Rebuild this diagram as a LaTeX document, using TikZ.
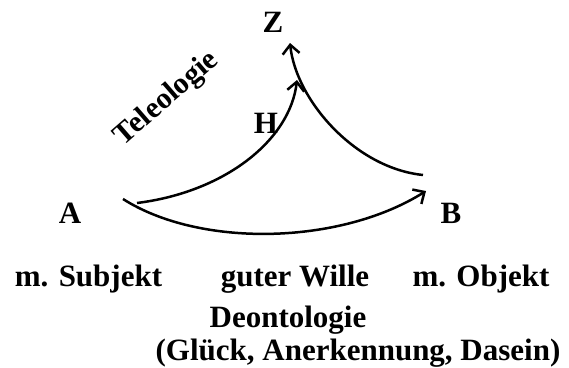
\documentclass[tikz,border=0pt]{standalone}
\usepackage{fontspec}
\setmainfont{Liberation Serif}
\usetikzlibrary{arrows.meta}

\begin{document}
\begin{tikzpicture}[
  x=1pt, y=-1pt,
  lbl/.style={font=\fontsize{31}{37}\selectfont\bfseries, anchor=base, inner sep=0pt},
  slanted/.style={font=\fontsize{30}{36}\selectfont\bfseries, rotate=41, inner sep=0pt},
  curve/.style={line width=2.5pt},
  arrow/.style={curve, -{Straight Barb[length=9pt, width=17pt]}},
]
  \useasboundingbox (0,0) rectangle (569,367);

  % Letters
  \node[lbl] (Z) at (273,32) {Z};
  \node[lbl] (H) at (266,133) {H};
  \node[lbl] (A) at (70,223) {A};
  \node[lbl] (B) at (451,223) {B};
  \node[slanted] (tele) at (167,99) {Teleologie};

  % Curve ends
  \coordinate (a0) at (123,199);
  \coordinate (a1) at (137,203);
  \coordinate (b0) at (423,175);
  \coordinate (b1) at (426,191);
  \coordinate (h) at (297,80);
  \coordinate (z) at (290,43);

  % Curves
  \draw[arrow] (a0) .. controls (200,248) and (340,245) .. (b1);
  \draw[arrow] (a1) .. controls (225,192) and (290,140) .. (h);
  \draw[arrow] (b0) .. controls (355,168) and (296,100) .. (z);

  % Bottom labels
  \node[lbl] (subj) at (88.5,286) {m. Subjekt};
  \node[lbl] (wille) at (295,286) {guter Wille};
  \node[lbl] (obj) at (481,286) {m. Objekt};
  \node[lbl] (deon) at (288,327) {Deontologie};
  \node[lbl] (glueck) at (358,360) {(Glück, Anerkennung, Dasein)};
\end{tikzpicture}
\end{document}
